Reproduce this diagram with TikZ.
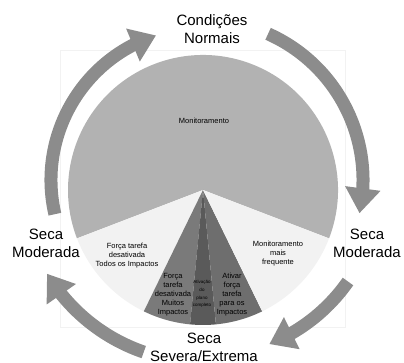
\documentclass[tikz,border=0pt]{standalone}
\usepackage{fontspec}
\setmainfont{Liberation Sans}
\usetikzlibrary{arrows.meta,bending}
\definecolor{pielight}{RGB}{242,242,242}
\definecolor{piemain}{RGB}{178,178,178}
\definecolor{piedark}{RGB}{122,122,122}
\definecolor{piedarker}{RGB}{90,90,90}
\definecolor{piemid}{RGB}{110,110,110}
\definecolor{cyclegray}{RGB}{140,140,140}

\begin{document}
\begin{tikzpicture}[x=1pt, y=1pt,
        stage/.style={font=\fontsize{15}{18}\selectfont, align=center, inner sep=0pt},
        slicetext/.style={font=\fontsize{7.5}{9}\selectfont, align=center, inner sep=0pt},
        tinytext/.style={font=\fontsize{4.5}{7.7}\selectfont, align=center, inner sep=0pt},
        cyclearrow/.style={draw=cyclegray, line width=13pt, -{Triangle[width=34pt, length=25pt]}}
    ]
        \useasboundingbox (0,0) rectangle (404,363);
        \coordinate (pie) at (203,173);
        \coordinate (ring) at (203,183);

        % Chart area
        \draw[black!5, line width=0.6pt] (60,36) rectangle (345,313);

        % Slices
        \fill[piemain] (pie) -- ++(-21:135) arc[start angle=-21, end angle=201, radius=135] -- cycle;
        \fill[pielight] (pie) -- ++(201:135) arc[start angle=201, end angle=244, radius=135] -- cycle;
        \fill[piedark] (pie) -- ++(244:135) arc[start angle=244, end angle=264.5, radius=135] -- cycle;
        \fill[piedarker] (pie) -- ++(264.5:135) arc[start angle=264.5, end angle=275.5, radius=135] -- cycle;
        \fill[piemid] (pie) -- ++(275.5:135) arc[start angle=275.5, end angle=296, radius=135] -- cycle;
        \fill[pielight] (pie) -- ++(296:135) arc[start angle=296, end angle=339, radius=135] -- cycle;

        % Slice labels
        \node[slicetext] (monit) at (204,242) {Monitoramento};
        \node[slicetext] (todos) at (127,107) {Força tarefa\\desativada\\Todos os Impactos};
        \node[slicetext] (freq) at (278,109) {Monitoramento\\mais\\frequente};
        \node[slicetext] (muitos) at (173,68) {Força\\tarefa\\desativada\\Muitos\\Impactos};
        \node[tinytext] (plano) at (202,69) {Ativação\\do\\plano\\completo};
        \node[slicetext] (ativar) at (232,68) {Ativar\\força\\tarefa\\para os\\Impactos};

        % Stages
        \node[stage] (normais) at (212,334) {Condições\\Normais};
        \node[stage] (modesq) at (46,120) {Seca\\Moderada};
        \node[stage] (moddir) at (367,120) {Seca\\Moderada};
        \node[stage] (severa) at (204,16) {Seca\\Severa/Extrema};

        % Cycle arrows
        \draw[cyclearrow] (ring) ++(193:152) arc[start angle=193, end angle=108, radius=152];
        \draw[cyclearrow] (ring) ++(66:160) arc[start angle=66, end angle=-12, radius=160];
        \draw[cyclearrow] (ring) ++(-35:177) arc[start angle=-35, end angle=-68, radius=177];
        \draw[cyclearrow] (ring) ++(251:182) arc[start angle=251, end angle=211, radius=182];
\end{tikzpicture}
\end{document}
